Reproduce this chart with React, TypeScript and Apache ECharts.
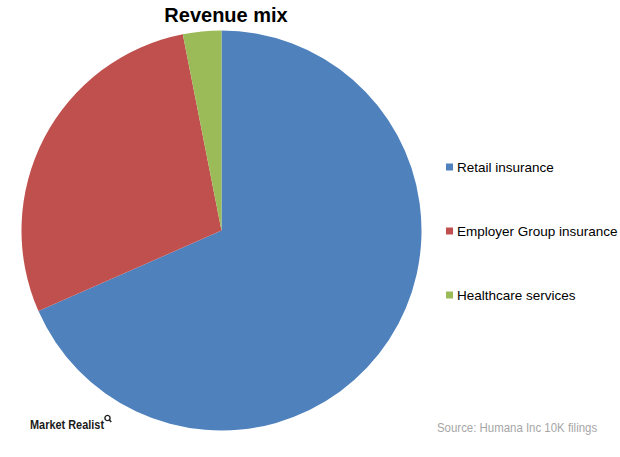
import React, { useEffect, useRef } from "react";
import * as echarts from "echarts";

const categories = ["Retail insurance", "Employer Group insurance", "Healthcare services"];
const shares = [68.4, 28.5, 3.1];
const colors = ["#4F81BD", "#C0504D", "#9BBB59"];
const titleText = "Revenue mix";
const sourceText = "Source: Humana Inc 10K filings";
const brandText = "Market Realist";

export default function App() {
  const ref = useRef<HTMLDivElement>(null);
  useEffect(() => {
    if (!ref.current) return;
    const chart = echarts.init(ref.current, null, { renderer: "svg" });
    chart.setOption({
      animation: false,
      backgroundColor: "#ffffff",
      title: {
        text: titleText,
        left: 221,
        textAlign: "center",
        top: 0,
        textStyle: {
          fontFamily: "Liberation Sans, Arial, sans-serif",
          fontSize: 20,
          fontWeight: "bold",
          color: "#000000",
        },
      },
      legend: {
        orient: "vertical",
        left: 441,
        top: 155,
        itemWidth: 7,
        itemHeight: 7,
        itemGap: 50,
        icon: "rect",
        data: categories,
        textStyle: {
          fontFamily: "Liberation Sans, Arial, sans-serif",
          fontSize: 13.5,
          color: "#000000",
          padding: [0, 0, 0, -1],
        },
      },
      series: [
        {
          type: "pie",
          center: [221.5, 230.5],
          radius: 200,
          startAngle: 90,
          clockwise: true,
          label: { show: false },
          labelLine: { show: false },
          emphasis: { disabled: true },
          itemStyle: { borderWidth: 0 },
          data: categories.map((name, i) => ({
            name,
            value: shares[i],
            itemStyle: { color: colors[i] },
          })),
        },
      ],
      graphic: [
        {
          type: "text",
          x: 30,
          y: 425,
          scaleX: 0.84,
          style: {
            text: brandText,
            fontFamily: "Liberation Sans, Arial, sans-serif",
            fontSize: 13,
            fontWeight: "bold",
            fill: "#1a1a1a",
            verticalAlign: "middle",
          },
        },
        {
          type: "circle",
          shape: { cx: 107.5, cy: 418, r: 2.6 },
          style: { fill: "none", stroke: "#1a1a1a", lineWidth: 1.4 },
        },
        {
          type: "line",
          shape: { x1: 109.3, y1: 420, x2: 111.3, y2: 422 },
          style: { stroke: "#1a1a1a", lineWidth: 1.4 },
        },
        {
          type: "text",
          x: 437,
          y: 428,
          scaleX: 0.88,
          style: {
            text: sourceText,
            fontFamily: "Liberation Sans, Arial, sans-serif",
            fontSize: 13,
            fill: "#a6a6a6",
            verticalAlign: "middle",
          },
        },
      ],
    });
    return () => chart.dispose();
  }, []);
  return (
    <div
      ref={ref}
      style={{ position: "absolute", left: 0, top: 0, width: 620, height: 457 }}
    />
  );
}
